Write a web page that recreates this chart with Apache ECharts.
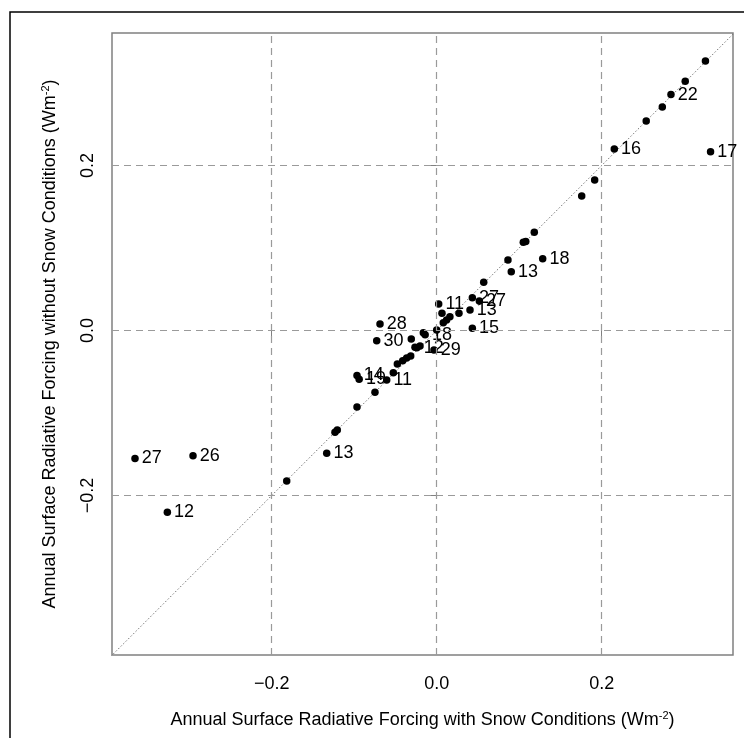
<!DOCTYPE html>
<html>
<head>
<meta charset="utf-8">
<script src="https://cdn.jsdelivr.net/npm/echarts@6/dist/echarts.min.js"></script>
<style>
html,body{margin:0;padding:0;background:#fff;}
#chart{width:744px;height:738px;}
</style>
</head>
<body>
<div id="chart"></div>
<script>
// Annual surface radiative forcing (W m-2)
var withSnow = [
  0.2840, 0.2153, 0.3320, 0.1285, 0.0904, 0.0432, 0.0517, 0.0024, 0.0404, 0.0432,
  -0.0687, -0.0727, -0.0140, -0.0240, -0.0033, -0.0966, -0.0940, -0.0606, -0.1333, -0.3657,
  -0.2954, -0.3265,
  0.3258, 0.3013, 0.2735, 0.2540, 0.1915, 0.1758, 0.1183, 0.1050, 0.1080, 0.0864,
  0.0570, 0.0270, 0.0064, 0.0160, 0.0120, 0.0080, 0.0000, -0.0162, -0.0308, -0.0202,
  -0.0263, -0.0315, -0.0364, -0.0412, -0.0477, -0.0526, -0.0748, -0.0966, -0.1233, -0.1205,
  -0.1818
];
var withoutSnow = [
  0.2860, 0.2200, 0.2167, 0.0870, 0.0713, 0.0398, 0.0358, 0.0321, 0.0250, 0.0027,
  0.0079, -0.0123, -0.0050, -0.0210, -0.0236, -0.0545, -0.0590, -0.0600, -0.1489, -0.1550,
  -0.1517, -0.2204,
  0.3267, 0.3020, 0.2710, 0.2540, 0.1824, 0.1630, 0.1190, 0.1070, 0.1080, 0.0855,
  0.0584, 0.0208, 0.0208, 0.0168, 0.0127, 0.0095, 0.0006, -0.0027, -0.0103, -0.0188,
  -0.0204, -0.0309, -0.0333, -0.0366, -0.0406, -0.0511, -0.0749, -0.0927, -0.1234, -0.1206,
  -0.1824
];
var pointLabels = [
  '22', '16', '17', '18', '13', '27', '27', '11', '13', '15',
  '28', '30', '18', '12', '29', '14', '19', '11', '13', '27',
  '26', '12',
  '', '', '', '', '', '', '', '', '', '',
  '', '', '', '', '', '', '', '', '', '',
  '', '', '', '', '', '', '', '', '', '',
  ''
];
var tickValues = [-0.2, 0.0, 0.2];
var xTitle = 'Annual Surface Radiative Forcing with Snow Conditions (Wm';
var yTitle = 'Annual Surface Radiative Forcing without Snow Conditions (Wm';

var pts = withSnow.map(function (x, i) { return [x, withoutSnow[i], pointLabels[i]]; });

function fmt(v) {
  var s = Math.abs(v).toFixed(1);
  return v < -1e-9 ? '\u2212' + s : s;
}

var chart = echarts.init(document.getElementById('chart'), null, {renderer: 'canvas'});
var font = 'Liberation Sans, Arial, Helvetica, sans-serif';
var titleRich = {
  a: {fontSize: 18, fontFamily: font, color: '#000'},
  s: {fontSize: 11, fontFamily: font, color: '#000', padding: [0, 0, 9, 0]}
};
chart.setOption({
  animation: false,
  backgroundColor: '#fff',
  graphic: [{
    type: 'rect', silent: true, z: 100,
    shape: {x: 10, y: 12, width: 900, height: 900},
    style: {fill: 'none', stroke: '#000', lineWidth: 1.5}
  }],
  grid: {
    left: 112, top: 33, width: 621, height: 622,
    show: true, borderColor: '#808080', borderWidth: 1.5, backgroundColor: 'transparent'
  },
  xAxis: {
    type: 'value', min: -0.3936, max: 0.3592,
    axisLine: {show: false},
    splitLine: {show: false},
    axisTick: {show: true, customValues: tickValues, length: 6, lineStyle: {color: '#808080', width: 1}},
    axisLabel: {customValues: tickValues, formatter: fmt, margin: 20, fontSize: 18, fontFamily: font, color: '#000'},
    name: '{a|' + xTitle + '}{s|-2}{a|)}',
    nameLocation: 'middle', nameGap: 55,
    nameTextStyle: {rich: titleRich}
  },
  yAxis: {
    type: 'value', min: -0.3933, max: 0.3606,
    axisLine: {show: false},
    splitLine: {show: false},
    axisTick: {show: true, customValues: tickValues, length: 6, lineStyle: {color: '#808080', width: 1}},
    axisLabel: {customValues: tickValues, formatter: fmt, rotate: 90, margin: 15, fontSize: 18, fontFamily: font, color: '#000'},
    name: '{a|' + yTitle + '}{s|-2}{a|)}',
    nameLocation: 'middle', nameGap: 52, nameRotate: 90,
    nameTextStyle: {rich: titleRich}
  },
  series: [{
    type: 'line',
    data: [[-0.5, -0.5], [0.5, 0.5]],
    clip: true,
    symbol: 'none',
    silent: true,
    z: 1,
    lineStyle: {color: '#777', width: 1, type: [1.5, 2]},
    markLine: {
      silent: true,
      symbol: 'none',
      label: {show: false},
      lineStyle: {color: '#9a9a9a', width: 1.2, type: [7, 5]},
      data: [{xAxis: -0.2}, {xAxis: 0}, {xAxis: 0.2}, {yAxis: -0.2}, {yAxis: 0}, {yAxis: 0.2}]
    }
  }, {
    type: 'scatter',
    data: pts,
    symbolSize: 7.5,
    z: 3,
    itemStyle: {color: '#000', opacity: 1},
    label: {
      show: true, position: 'right', distance: 3,
      formatter: function (p) { return p.data[2]; },
      fontSize: 18, fontFamily: font, color: '#000', opacity: 1
    },
    labelLayout: {hideOverlap: false}
  }]
});
</script>
</body>
</html>
